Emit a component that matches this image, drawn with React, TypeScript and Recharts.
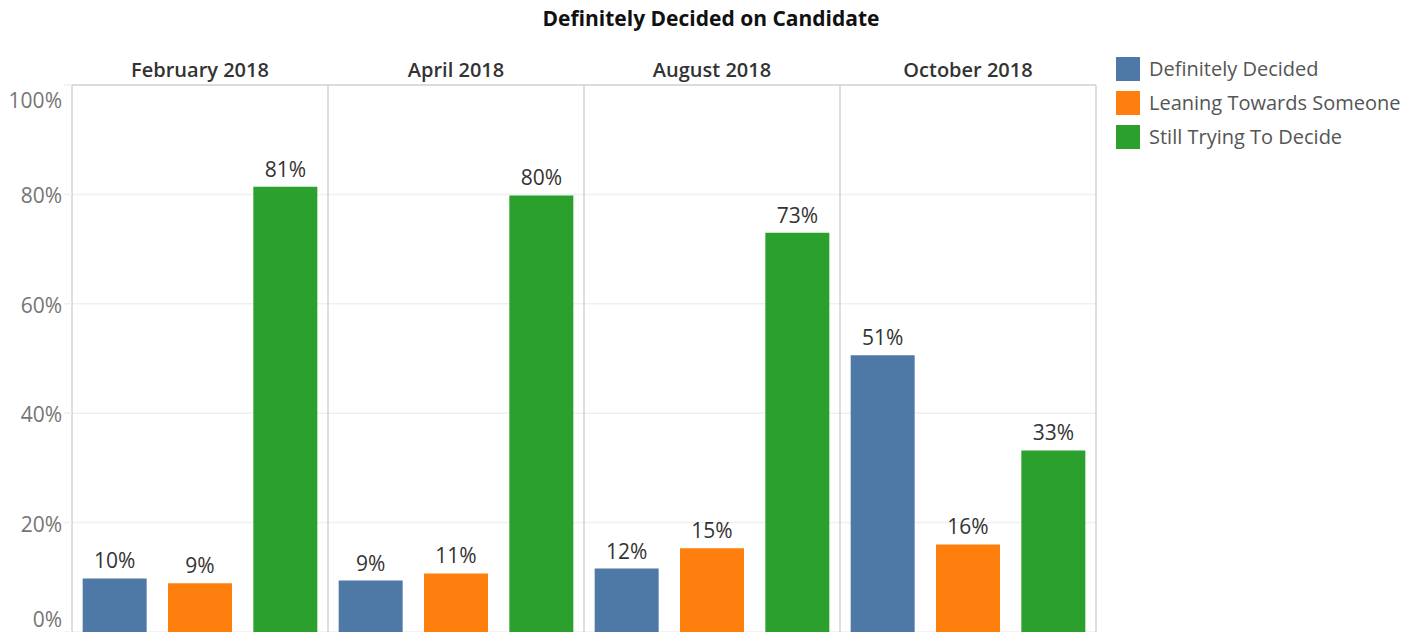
import React from "react";
import { BarChart, Bar, XAxis, YAxis, CartesianGrid, ReferenceLine, LabelList } from "recharts";

const months = ["February 2018", "April 2018", "August 2018", "October 2018"];
const definitelyDecided = [0.098, 0.094, 0.116, 0.506];
const leaningTowardsSomeone = [0.089, 0.107, 0.153, 0.16];
const stillTryingToDecide = [0.814, 0.798, 0.73, 0.332];
const yTicks = [0, 0.2, 0.4, 0.6, 0.8, 1];
const panelEdges = [0, 1, 2, 3, 4];

const series = [
  { key: "definitely", name: "Definitely Decided", color: "#4e79a7", values: definitelyDecided },
  { key: "leaning", name: "Leaning Towards Someone", color: "#ff7f0e", values: leaningTowardsSomeone },
  { key: "still", name: "Still Trying To Decide", color: "#2ca02c", values: stillTryingToDecide },
];

// pane index (center of each month pane) for the hidden pane-border axis
const data = months.map((m, i) => {
  const row: any = { month: m, pane: i + 0.5 };
  series.forEach((s) => (row[s.key] = s.values[i]));
  return row;
});

const FONT = "'Open Sans', sans-serif";
const pct = (v: any) => `${Math.round(Number(v) * 100)}%`;

const MonthTick = (props: any) => {
  const { x, y, payload } = props;
  return (
    <text x={x} y={y - 8} textAnchor="middle" fontFamily={FONT} fontSize={20} fontWeight={600} fill="#333">
      {payload.value}
    </text>
  );
};

// Tableau keeps the edge labels inside the pane
const PctTick = (props: any) => {
  const { x, y, payload } = props;
  const v = Number(payload.value);
  const shift = v >= 1 ? 16 : v <= 0 ? -12 : 1.5;
  return (
    <text x={x} y={y + shift} dy="0.355em" textAnchor="end" fontFamily={FONT} fontSize={21} fill="#757575">
      {pct(v)}
    </text>
  );
};

export default function App() {
  return (
    <div style={{ position: "absolute", left: 0, top: 0, width: 1419, height: 632, background: "#fff", overflow: "hidden" }}>
      <div
        style={{
          position: "absolute",
          left: 0,
          width: 1422,
          top: 8,
          textAlign: "center",
          fontFamily: FONT,
          fontWeight: 700,
          fontSize: 21,
          lineHeight: "20px",
          color: "#111",
        }}
      >
        Definitely Decided on Candidate
      </div>
      <BarChart
        width={1419}
        height={632}
        data={data}
        margin={{ top: 55, right: 323, bottom: 0, left: 0 }}
        barCategoryGap={10.67}
        barGap={21.33}
      >
        <CartesianGrid horizontal vertical={false} stroke="#efefef" strokeWidth={1.5} />
        <XAxis
          dataKey="month"
          orientation="top"
          height={30}
          axisLine={false}
          tickLine={false}
          tickSize={0}
          tickMargin={0}
          tick={<MonthTick />}
          interval={0}
        />
        <XAxis xAxisId="grid" dataKey="pane" type="number" scale="linear" domain={[0, 4]} allowDataOverflow hide />
        <YAxis
          type="number"
          domain={[0, 1]}
          ticks={yTicks}
          width={72}
          axisLine={false}
          tickLine={{ stroke: "#efefef", strokeWidth: 1.5 }}
          tickSize={8}
          tickMargin={2}
          tick={<PctTick />}
          interval={0}
        />
        <ReferenceLine y={1} stroke="#d3d3d3" strokeWidth={1.5} />
        {panelEdges.map((e) => (
          <ReferenceLine key={e} x={e} xAxisId="grid" stroke="#d3d3d3" strokeWidth={1.5} ifOverflow="visible" />
        ))}
        {series.map((s) => (
          <Bar key={s.key} dataKey={s.key} name={s.name} fill={s.color} isAnimationActive={false}>
            <LabelList
              dataKey={s.key}
              position="top"
              offset={10}
              formatter={pct}
              style={{ fontFamily: FONT, fontSize: 21, fill: "#333" }}
            />
          </Bar>
        ))}
      </BarChart>
      <div style={{ position: "absolute", left: 1116, top: 57, fontFamily: FONT, fontSize: 20, color: "#555" }}>
        {series.map((s) => (
          <div key={s.key} style={{ display: "flex", alignItems: "center", height: 24, marginBottom: 10 }}>
            <div style={{ width: 24, height: 24, background: s.color, marginRight: 9 }} />
            <span style={{ whiteSpace: "nowrap", lineHeight: "24px" }}>{s.name}</span>
          </div>
        ))}
      </div>
    </div>
  );
}
